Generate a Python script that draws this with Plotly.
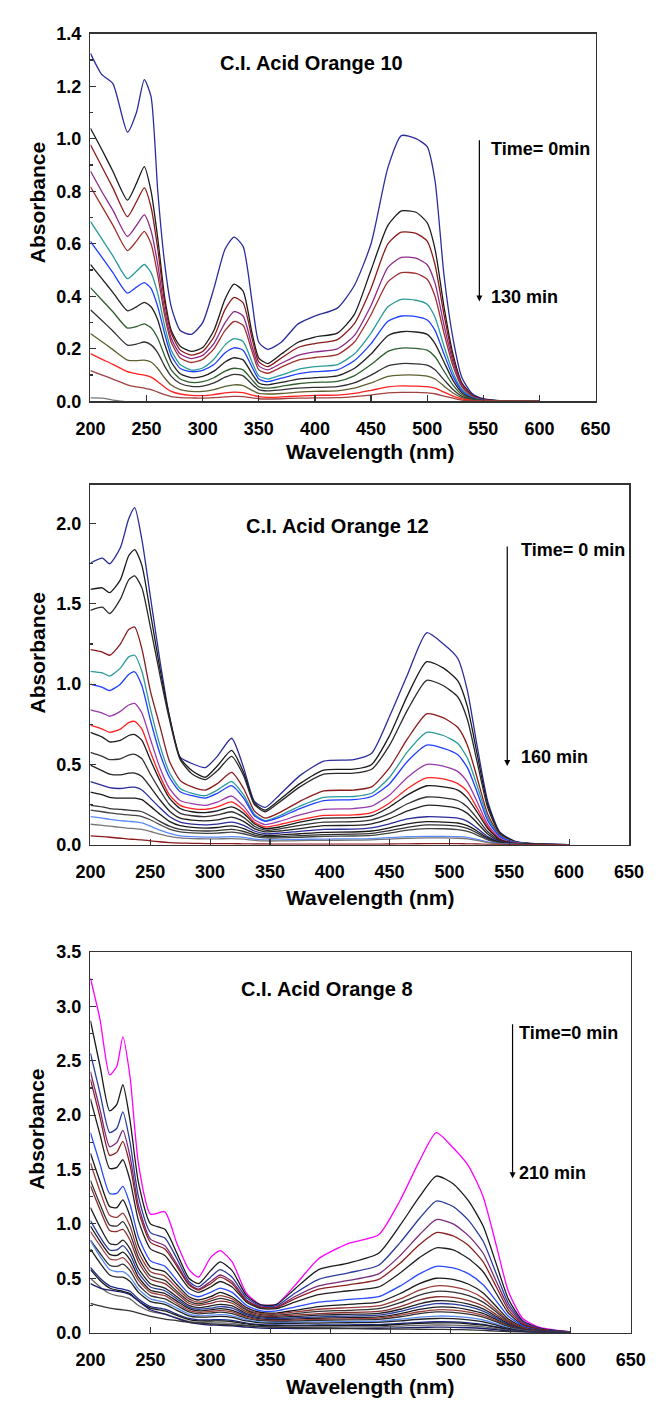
import plotly.graph_objects as go

# ---------------- DATA ----------------
# Panel 1: C.I. Acid Orange 10 (0 -> 130 min)
WL1 = [200, 210, 220, 233, 241, 248, 254, 260, 266, 272, 280, 290, 300, 310, 320, 328, 336, 344, 350, 358,
       370, 385, 400, 420, 435, 450, 465, 477, 490, 500, 507, 515, 523, 531, 540, 550, 565, 600]
P1_C1 = [1.325, 1.245, 1.21, 1.025, 1.10, 1.225, 1.16, 0.80, 0.53, 0.36, 0.27, 0.255, 0.30, 0.43, 0.58, 0.625, 0.59, 0.38, 0.225, 0.198,
         0.225, 0.295, 0.325, 0.355, 0.44, 0.60, 0.89, 1.012, 1.0, 0.97, 0.84, 0.48, 0.24, 0.09, 0.03, 0.01, 0.003, 0.0]
P1_C2 = [1.04, 0.96, 0.876, 0.766, 0.83, 0.894, 0.80, 0.62, 0.40, 0.27, 0.21, 0.19, 0.205, 0.27, 0.39, 0.446, 0.42, 0.26, 0.165, 0.144,
         0.18, 0.225, 0.245, 0.26, 0.33, 0.50, 0.67, 0.725, 0.72, 0.68, 0.58, 0.36, 0.18, 0.07, 0.025, 0.008, 0.002, 0.0]
P1_C3 = [0.977, 0.895, 0.813, 0.703, 0.76, 0.813, 0.74, 0.58, 0.38, 0.26, 0.195, 0.176, 0.19, 0.245, 0.35, 0.396, 0.375, 0.24, 0.15, 0.132,
         0.165, 0.205, 0.22, 0.235, 0.295, 0.43, 0.60, 0.644, 0.64, 0.61, 0.52, 0.33, 0.165, 0.065, 0.022, 0.007, 0.002, 0.0]
P1_C4 = [0.877, 0.80, 0.728, 0.628, 0.67, 0.71, 0.65, 0.52, 0.35, 0.24, 0.18, 0.163, 0.175, 0.22, 0.30, 0.342, 0.325, 0.21, 0.135, 0.12,
         0.145, 0.175, 0.188, 0.20, 0.25, 0.365, 0.51, 0.548, 0.545, 0.52, 0.45, 0.29, 0.15, 0.06, 0.02, 0.006, 0.002, 0.0]
P1_C5 = [0.817, 0.744, 0.671, 0.574, 0.61, 0.647, 0.60, 0.48, 0.33, 0.225, 0.165, 0.148, 0.16, 0.20, 0.27, 0.304, 0.29, 0.19, 0.12, 0.107,
         0.13, 0.157, 0.167, 0.178, 0.225, 0.33, 0.455, 0.49, 0.487, 0.465, 0.40, 0.26, 0.135, 0.055, 0.018, 0.005, 0.001, 0.0]
P1_C6 = [0.685, 0.62, 0.554, 0.467, 0.495, 0.521, 0.49, 0.41, 0.29, 0.195, 0.14, 0.119, 0.127, 0.16, 0.215, 0.239, 0.228, 0.15, 0.097, 0.085,
         0.10, 0.122, 0.132, 0.14, 0.18, 0.26, 0.36, 0.388, 0.385, 0.37, 0.32, 0.21, 0.11, 0.045, 0.015, 0.004, 0.001, 0.0]
P1_C7 = [0.609, 0.55, 0.49, 0.412, 0.435, 0.452, 0.43, 0.36, 0.26, 0.175, 0.125, 0.113, 0.118, 0.14, 0.185, 0.204, 0.195, 0.13, 0.085, 0.075,
         0.088, 0.105, 0.113, 0.12, 0.155, 0.22, 0.305, 0.325, 0.323, 0.31, 0.27, 0.18, 0.095, 0.04, 0.013, 0.004, 0.001, 0.0]
P1_C8 = [0.521, 0.468, 0.415, 0.345, 0.36, 0.377, 0.36, 0.31, 0.22, 0.15, 0.105, 0.09, 0.095, 0.115, 0.15, 0.166, 0.158, 0.105, 0.07, 0.063,
         0.072, 0.085, 0.09, 0.097, 0.125, 0.18, 0.25, 0.265, 0.264, 0.255, 0.22, 0.15, 0.08, 0.033, 0.011, 0.003, 0.001, 0.0]
P1_C9 = [0.433, 0.387, 0.341, 0.279, 0.285, 0.295, 0.28, 0.24, 0.175, 0.12, 0.085, 0.072, 0.075, 0.09, 0.115, 0.126, 0.12, 0.082, 0.055, 0.05,
         0.057, 0.067, 0.072, 0.076, 0.097, 0.14, 0.19, 0.203, 0.202, 0.195, 0.17, 0.115, 0.062, 0.026, 0.009, 0.003, 0.001, 0.0]
P1_C10 = [0.349, 0.309, 0.268, 0.214, 0.218, 0.226, 0.215, 0.185, 0.135, 0.095, 0.068, 0.057, 0.058, 0.07, 0.092, 0.103, 0.097, 0.065, 0.045, 0.04,
          0.044, 0.05, 0.053, 0.056, 0.07, 0.10, 0.135, 0.144, 0.143, 0.138, 0.12, 0.082, 0.045, 0.019, 0.007, 0.002, 0.001, 0.0]
P1_C11 = [0.258, 0.228, 0.197, 0.157, 0.155, 0.157, 0.15, 0.125, 0.09, 0.062, 0.045, 0.038, 0.038, 0.045, 0.057, 0.063, 0.06, 0.042, 0.03, 0.028,
          0.03, 0.035, 0.038, 0.04, 0.05, 0.07, 0.095, 0.10, 0.10, 0.096, 0.085, 0.058, 0.032, 0.014, 0.005, 0.002, 0.001, 0.0]
P1_C12 = [0.182, 0.161, 0.141, 0.113, 0.105, 0.10, 0.092, 0.075, 0.055, 0.038, 0.028, 0.023, 0.022, 0.026, 0.032, 0.035, 0.033, 0.024, 0.018, 0.015,
          0.017, 0.02, 0.023, 0.024, 0.03, 0.042, 0.055, 0.059, 0.058, 0.056, 0.05, 0.035, 0.02, 0.009, 0.003, 0.001, 0.0, 0.0]
P1_C13 = [0.117, 0.101, 0.085, 0.063, 0.055, 0.05, 0.045, 0.035, 0.026, 0.018, 0.014, 0.013, 0.012, 0.014, 0.017, 0.019, 0.018, 0.013, 0.01, 0.009,
          0.01, 0.012, 0.013, 0.014, 0.018, 0.024, 0.032, 0.034, 0.034, 0.032, 0.029, 0.02, 0.012, 0.005, 0.002, 0.001, 0.0, 0.0]
WL1_LAST = [200, 210, 220, 230]
P1_C14 = [0.013, 0.012, 0.005, 0.0]
P1_COLORS = ["#2b2b9b", "#1a1a1a", "#8b1a1a", "#8b2a8b", "#a03030", "#2a9a9a", "#1f3fff",
             "#222222", "#2f5f2f", "#333333", "#5f5f2f", "#ff2020", "#a04040", "#777777"]

# Panel 2: C.I. Acid Orange 12 (0 -> 160 min)
WL2 = [200, 210, 216, 225, 232, 237, 243, 250, 258, 266, 275, 285, 296, 306, 318, 328, 337, 346, 358, 375,
       395, 420, 435, 450, 465, 481, 495, 507, 515, 523, 532, 542, 555, 575, 600]
P2_C1 = [1.755, 1.785, 1.75, 1.85, 2.03, 2.10, 1.90, 1.55, 1.15, 0.80, 0.545, 0.505, 0.48, 0.55, 0.663, 0.48, 0.27, 0.232, 0.31, 0.43,
         0.52, 0.53, 0.57, 0.80, 1.06, 1.32, 1.25, 1.16, 0.96, 0.62, 0.27, 0.08, 0.02, 0.004, 0.0]
P2_C2 = [1.59, 1.60, 1.57, 1.65, 1.80, 1.838, 1.74, 1.45, 1.10, 0.80, 0.54, 0.46, 0.42, 0.49, 0.587, 0.45, 0.26, 0.215, 0.28, 0.38,
         0.465, 0.47, 0.50, 0.68, 0.93, 1.14, 1.10, 1.02, 0.86, 0.57, 0.25, 0.075, 0.018, 0.003, 0.0]
P2_C3 = [1.46, 1.48, 1.44, 1.53, 1.65, 1.674, 1.60, 1.36, 1.06, 0.78, 0.53, 0.44, 0.405, 0.46, 0.55, 0.43, 0.25, 0.205, 0.265, 0.36,
         0.44, 0.445, 0.47, 0.62, 0.84, 1.024, 0.99, 0.92, 0.78, 0.52, 0.23, 0.07, 0.017, 0.003, 0.0]
P2_C4 = [1.215, 1.20, 1.18, 1.25, 1.34, 1.356, 1.22, 0.96, 0.74, 0.52, 0.40, 0.36, 0.34, 0.38, 0.45, 0.35, 0.21, 0.165, 0.20, 0.27,
         0.335, 0.34, 0.36, 0.48, 0.66, 0.815, 0.79, 0.73, 0.62, 0.42, 0.19, 0.06, 0.015, 0.003, 0.0]
P2_C5 = [1.08, 1.07, 1.05, 1.10, 1.17, 1.18, 1.08, 0.85, 0.62, 0.45, 0.35, 0.32, 0.305, 0.34, 0.393, 0.31, 0.19, 0.15, 0.18, 0.24,
         0.295, 0.30, 0.32, 0.42, 0.58, 0.70, 0.68, 0.63, 0.54, 0.37, 0.17, 0.055, 0.014, 0.003, 0.0]
P2_C6 = [1.00, 0.98, 0.96, 1.00, 1.06, 1.077, 0.99, 0.78, 0.57, 0.42, 0.33, 0.305, 0.29, 0.32, 0.368, 0.29, 0.18, 0.145, 0.17, 0.225,
         0.275, 0.28, 0.30, 0.38, 0.52, 0.62, 0.60, 0.56, 0.48, 0.33, 0.15, 0.05, 0.012, 0.003, 0.0]
P2_C7 = [0.84, 0.82, 0.80, 0.83, 0.87, 0.88, 0.82, 0.66, 0.48, 0.35, 0.275, 0.255, 0.245, 0.265, 0.303, 0.24, 0.155, 0.125, 0.145, 0.185,
         0.22, 0.225, 0.24, 0.31, 0.42, 0.50, 0.49, 0.455, 0.39, 0.27, 0.125, 0.04, 0.01, 0.002, 0.0]
P2_C8 = [0.745, 0.72, 0.70, 0.72, 0.76, 0.768, 0.72, 0.58, 0.43, 0.31, 0.245, 0.225, 0.22, 0.235, 0.266, 0.215, 0.14, 0.11, 0.125, 0.155,
         0.182, 0.185, 0.20, 0.26, 0.35, 0.416, 0.41, 0.38, 0.33, 0.23, 0.11, 0.035, 0.009, 0.002, 0.0]
P2_C9 = [0.70, 0.67, 0.64, 0.65, 0.68, 0.686, 0.65, 0.53, 0.40, 0.29, 0.225, 0.205, 0.20, 0.21, 0.235, 0.195, 0.13, 0.10, 0.11, 0.14,
         0.165, 0.168, 0.18, 0.235, 0.31, 0.367, 0.36, 0.34, 0.29, 0.205, 0.10, 0.032, 0.008, 0.002, 0.0]
P2_C10 = [0.575, 0.55, 0.53, 0.535, 0.558, 0.563, 0.535, 0.44, 0.34, 0.25, 0.195, 0.18, 0.175, 0.185, 0.205, 0.17, 0.115, 0.09, 0.098, 0.12,
          0.14, 0.143, 0.155, 0.195, 0.255, 0.297, 0.292, 0.275, 0.235, 0.165, 0.08, 0.027, 0.007, 0.002, 0.0]
P2_C11 = [0.495, 0.46, 0.44, 0.435, 0.445, 0.446, 0.425, 0.36, 0.28, 0.21, 0.165, 0.153, 0.148, 0.155, 0.172, 0.145, 0.10, 0.08, 0.085, 0.10,
          0.118, 0.12, 0.13, 0.162, 0.21, 0.245, 0.24, 0.226, 0.195, 0.137, 0.067, 0.022, 0.006, 0.001, 0.0]
P2_C12 = [0.393, 0.37, 0.355, 0.35, 0.357, 0.358, 0.34, 0.29, 0.23, 0.175, 0.14, 0.128, 0.123, 0.128, 0.14, 0.12, 0.085, 0.068, 0.072, 0.083,
          0.095, 0.097, 0.105, 0.13, 0.16, 0.174, 0.172, 0.165, 0.145, 0.103, 0.05, 0.017, 0.005, 0.001, 0.0]
P2_C13 = [0.327, 0.31, 0.295, 0.29, 0.29, 0.29, 0.28, 0.24, 0.19, 0.145, 0.118, 0.108, 0.103, 0.107, 0.117, 0.10, 0.072, 0.058, 0.06, 0.068,
          0.077, 0.079, 0.085, 0.105, 0.13, 0.143, 0.141, 0.135, 0.118, 0.085, 0.042, 0.014, 0.004, 0.001, 0.0]
P2_C14 = [0.245, 0.235, 0.225, 0.22, 0.215, 0.212, 0.205, 0.18, 0.145, 0.115, 0.095, 0.088, 0.085, 0.088, 0.095, 0.082, 0.06, 0.05, 0.05, 0.056,
          0.063, 0.065, 0.07, 0.087, 0.108, 0.123, 0.122, 0.116, 0.101, 0.073, 0.036, 0.012, 0.003, 0.001, 0.0]
P2_C15 = [0.215, 0.205, 0.198, 0.19, 0.185, 0.182, 0.175, 0.155, 0.125, 0.097, 0.08, 0.073, 0.07, 0.072, 0.078, 0.068, 0.05, 0.042, 0.042, 0.046,
          0.052, 0.054, 0.058, 0.072, 0.09, 0.10, 0.099, 0.094, 0.082, 0.06, 0.03, 0.01, 0.003, 0.001, 0.0]
P2_C16 = [0.174, 0.165, 0.158, 0.15, 0.145, 0.142, 0.135, 0.115, 0.09, 0.07, 0.055, 0.05, 0.047, 0.047, 0.05, 0.045, 0.035, 0.03, 0.03, 0.032,
          0.035, 0.036, 0.038, 0.044, 0.05, 0.052, 0.052, 0.05, 0.045, 0.033, 0.017, 0.006, 0.002, 0.0, 0.0]
P2_C17 = [0.127, 0.12, 0.115, 0.108, 0.102, 0.10, 0.095, 0.082, 0.066, 0.052, 0.042, 0.038, 0.036, 0.036, 0.038, 0.034, 0.027, 0.023, 0.023, 0.025,
          0.027, 0.028, 0.03, 0.035, 0.04, 0.042, 0.042, 0.04, 0.036, 0.026, 0.013, 0.005, 0.001, 0.0, 0.0]
P2_C18 = [0.055, 0.05, 0.046, 0.04, 0.035, 0.033, 0.03, 0.024, 0.018, 0.013, 0.01, 0.008, 0.007, 0.006, 0.006, 0.005, 0.004, 0.004, 0.003, 0.003,
          0.003, 0.003, 0.003, 0.004, 0.005, 0.006, 0.006, 0.006, 0.005, 0.004, 0.002, 0.001, 0.0, 0.0, 0.0]
P2_COLORS = ["#2b2b9b", "#1a1a1a", "#2a2a2a", "#8b1a1a", "#2a9a9a", "#1f3fff", "#9a3aaa", "#ff2020", "#1a1a1a",
             "#333333", "#222222", "#2b2b9b", "#1a1a1a", "#333333", "#444444", "#5a8aff", "#777777", "#8b1a1a"]

# Panel 3: C.I. Acid Orange 8 (0 -> 210 min)
WL3 = [200, 208, 216, 222, 227, 233, 240, 250, 262, 272, 282, 290, 300, 308, 318, 330, 342, 355, 370, 390,
       415, 440, 458, 474, 488, 502, 515, 527, 538, 548, 560, 575, 600]
P3_C1 = [3.26, 2.88, 2.37, 2.45, 2.72, 2.35, 1.55, 1.09, 1.11, 0.82, 0.58, 0.51, 0.69, 0.755, 0.65, 0.36, 0.255, 0.26, 0.43, 0.68,
         0.82, 0.90, 1.22, 1.58, 1.84, 1.70, 1.53, 1.25, 0.80, 0.38, 0.13, 0.045, 0.006]
P3_C2 = [2.87, 2.45, 2.04, 2.10, 2.28, 1.95, 1.38, 1.00, 0.95, 0.73, 0.50, 0.45, 0.57, 0.65, 0.57, 0.34, 0.255, 0.26, 0.40, 0.58,
         0.64, 0.73, 0.99, 1.25, 1.44, 1.37, 1.21, 0.98, 0.63, 0.31, 0.11, 0.04, 0.006]
P3_C3 = [2.57, 2.20, 1.84, 1.88, 2.03, 1.75, 1.25, 0.92, 0.87, 0.68, 0.47, 0.42, 0.51, 0.58, 0.51, 0.32, 0.245, 0.245, 0.36, 0.49,
         0.55, 0.62, 0.83, 1.05, 1.21, 1.16, 1.03, 0.84, 0.54, 0.27, 0.10, 0.035, 0.005]
P3_C4 = [2.40, 2.05, 1.71, 1.75, 1.86, 1.62, 1.17, 0.86, 0.80, 0.63, 0.45, 0.40, 0.47, 0.53, 0.47, 0.30, 0.235, 0.235, 0.33, 0.43,
         0.48, 0.54, 0.71, 0.90, 1.04, 1.00, 0.89, 0.73, 0.47, 0.24, 0.09, 0.03, 0.005]
P3_C5 = [2.33, 1.98, 1.63, 1.66, 1.76, 1.54, 1.12, 0.83, 0.77, 0.61, 0.44, 0.39, 0.45, 0.51, 0.45, 0.29, 0.23, 0.23, 0.31, 0.40,
         0.44, 0.49, 0.64, 0.81, 0.92, 0.89, 0.80, 0.65, 0.42, 0.21, 0.08, 0.03, 0.005]
P3_C6 = [2.15, 1.82, 1.51, 1.52, 1.59, 1.40, 1.03, 0.77, 0.71, 0.56, 0.41, 0.37, 0.42, 0.47, 0.42, 0.28, 0.22, 0.22, 0.28, 0.35,
         0.385, 0.42, 0.55, 0.69, 0.78, 0.76, 0.68, 0.56, 0.36, 0.18, 0.07, 0.025, 0.004]
P3_C7 = [1.84, 1.55, 1.28, 1.28, 1.345, 1.18, 0.88, 0.66, 0.61, 0.48, 0.36, 0.33, 0.37, 0.41, 0.37, 0.25, 0.20, 0.20, 0.235, 0.28,
         0.305, 0.33, 0.43, 0.54, 0.61, 0.595, 0.54, 0.44, 0.29, 0.15, 0.06, 0.02, 0.004]
P3_C8 = [1.65, 1.39, 1.16, 1.15, 1.22, 1.07, 0.80, 0.60, 0.56, 0.44, 0.33, 0.30, 0.33, 0.37, 0.33, 0.23, 0.185, 0.18, 0.205, 0.24,
         0.26, 0.28, 0.36, 0.45, 0.50, 0.49, 0.445, 0.365, 0.24, 0.125, 0.05, 0.018, 0.003]
P3_C9 = [1.56, 1.30, 1.08, 1.06, 1.10, 0.98, 0.74, 0.56, 0.52, 0.41, 0.31, 0.28, 0.31, 0.34, 0.31, 0.215, 0.175, 0.17, 0.19, 0.215,
         0.23, 0.245, 0.31, 0.39, 0.43, 0.42, 0.385, 0.315, 0.21, 0.11, 0.045, 0.016, 0.003]
P3_C10 = [1.40, 1.18, 0.99, 0.98, 1.02, 0.91, 0.69, 0.52, 0.48, 0.38, 0.29, 0.265, 0.29, 0.315, 0.29, 0.205, 0.165, 0.16, 0.175, 0.195,
          0.205, 0.22, 0.275, 0.345, 0.38, 0.372, 0.34, 0.28, 0.19, 0.10, 0.04, 0.015, 0.003]
P3_C11 = [1.35, 1.13, 0.94, 0.93, 0.95, 0.85, 0.65, 0.49, 0.45, 0.36, 0.27, 0.25, 0.27, 0.29, 0.27, 0.19, 0.155, 0.15, 0.16, 0.175,
          0.185, 0.195, 0.24, 0.30, 0.33, 0.325, 0.295, 0.245, 0.165, 0.09, 0.035, 0.013, 0.003]
P3_C12 = [1.15, 0.97, 0.82, 0.81, 0.85, 0.77, 0.59, 0.45, 0.41, 0.33, 0.25, 0.23, 0.245, 0.26, 0.245, 0.175, 0.145, 0.14, 0.148, 0.16,
          0.168, 0.177, 0.215, 0.265, 0.293, 0.288, 0.262, 0.218, 0.148, 0.08, 0.032, 0.012, 0.002]
P3_C13 = [1.03, 0.88, 0.76, 0.76, 0.80, 0.72, 0.55, 0.42, 0.385, 0.31, 0.235, 0.215, 0.225, 0.24, 0.225, 0.165, 0.135, 0.13, 0.136, 0.145,
          0.152, 0.16, 0.195, 0.24, 0.266, 0.262, 0.238, 0.198, 0.135, 0.073, 0.03, 0.011, 0.002]
P3_C14 = [0.98, 0.84, 0.72, 0.71, 0.74, 0.67, 0.51, 0.39, 0.36, 0.29, 0.22, 0.20, 0.21, 0.22, 0.205, 0.152, 0.125, 0.12, 0.124, 0.132,
          0.138, 0.145, 0.175, 0.213, 0.235, 0.232, 0.21, 0.176, 0.12, 0.066, 0.027, 0.01, 0.002]
P3_C15 = [0.93, 0.80, 0.68, 0.67, 0.69, 0.62, 0.48, 0.37, 0.34, 0.27, 0.205, 0.187, 0.195, 0.205, 0.19, 0.142, 0.118, 0.112, 0.115, 0.122,
          0.127, 0.133, 0.16, 0.192, 0.21, 0.207, 0.188, 0.158, 0.108, 0.06, 0.025, 0.009, 0.002]
P3_C16 = [0.85, 0.73, 0.62, 0.61, 0.63, 0.57, 0.44, 0.34, 0.31, 0.25, 0.19, 0.173, 0.18, 0.188, 0.175, 0.132, 0.11, 0.104, 0.106, 0.112,
          0.117, 0.122, 0.146, 0.174, 0.19, 0.187, 0.17, 0.143, 0.098, 0.055, 0.023, 0.008, 0.002]
P3_C17 = [0.846, 0.70, 0.58, 0.56, 0.56, 0.51, 0.40, 0.31, 0.28, 0.225, 0.17, 0.155, 0.16, 0.165, 0.155, 0.118, 0.098, 0.093, 0.094, 0.098,
          0.102, 0.106, 0.123, 0.142, 0.152, 0.15, 0.137, 0.116, 0.08, 0.045, 0.019, 0.007, 0.001]
P3_C18 = [0.77, 0.64, 0.53, 0.51, 0.51, 0.47, 0.37, 0.285, 0.26, 0.205, 0.155, 0.142, 0.145, 0.15, 0.14, 0.107, 0.089, 0.085, 0.085, 0.088,
          0.091, 0.094, 0.108, 0.123, 0.13, 0.128, 0.117, 0.099, 0.069, 0.039, 0.016, 0.006, 0.001]
P3_C19 = [0.60, 0.50, 0.43, 0.41, 0.40, 0.38, 0.31, 0.24, 0.215, 0.17, 0.13, 0.118, 0.118, 0.12, 0.113, 0.088, 0.073, 0.07, 0.069, 0.07,
          0.072, 0.074, 0.084, 0.095, 0.10, 0.099, 0.09, 0.076, 0.053, 0.03, 0.012, 0.005, 0.001]
P3_C20 = [0.58, 0.48, 0.41, 0.39, 0.38, 0.36, 0.29, 0.225, 0.20, 0.158, 0.12, 0.108, 0.107, 0.108, 0.102, 0.08, 0.066, 0.063, 0.062, 0.063,
          0.064, 0.066, 0.075, 0.085, 0.09, 0.089, 0.081, 0.068, 0.048, 0.027, 0.011, 0.004, 0.001]
P3_C21 = [0.50, 0.42, 0.36, 0.34, 0.33, 0.31, 0.25, 0.195, 0.17, 0.135, 0.103, 0.093, 0.09, 0.09, 0.085, 0.067, 0.055, 0.052, 0.051, 0.051,
          0.052, 0.053, 0.06, 0.067, 0.07, 0.069, 0.063, 0.053, 0.037, 0.021, 0.009, 0.003, 0.001]
P3_C22 = [0.45, 0.41, 0.39, 0.38, 0.37, 0.35, 0.29, 0.21, 0.17, 0.13, 0.095, 0.08, 0.07, 0.068, 0.063, 0.05, 0.042, 0.04, 0.038, 0.038,
          0.039, 0.04, 0.044, 0.048, 0.05, 0.049, 0.045, 0.038, 0.027, 0.015, 0.006, 0.002, 0.0]
P3_C23 = [0.27, 0.245, 0.225, 0.215, 0.21, 0.20, 0.18, 0.15, 0.125, 0.11, 0.095, 0.088, 0.08, 0.075, 0.07, 0.062, 0.055, 0.05, 0.045, 0.04,
          0.036, 0.033, 0.032, 0.031, 0.03, 0.028, 0.025, 0.02, 0.014, 0.008, 0.004, 0.002, 0.0]
P3_COLORS = ["#ff00ff", "#1a1a1a", "#2b3b9b", "#7a2a7a", "#8b2020", "#222222", "#2a4aff", "#1a1a1a", "#9a3a3a",
             "#333333", "#8b3030", "#222222", "#2b3b9b", "#1a1a1a", "#a04040", "#333333", "#5a8aee", "#222222",
             "#1a2a8a", "#1a1a1a", "#666666", "#1a1a6a", "#333333"]

TITLES = ["C.I. Acid Orange 10", "C.I. Acid Orange 12", "C.I. Acid Orange 8"]
TIME_START = ["Time= 0min", "Time= 0 min", "Time=0 min"]
TIME_END = ["130 min", "160 min", "210 min"]
X_TICKS = [200, 250, 300, 350, 400, 450, 500, 550, 600, 650]

# ---------------- FIGURE ----------------
W, H = 664, 1406
FONT = "Liberation Sans, Arial, Helvetica, sans-serif"

P1 = [P1_C1, P1_C2, P1_C3, P1_C4, P1_C5, P1_C6, P1_C7, P1_C8, P1_C9, P1_C10, P1_C11, P1_C12, P1_C13]
P2 = [P2_C1, P2_C2, P2_C3, P2_C4, P2_C5, P2_C6, P2_C7, P2_C8, P2_C9, P2_C10, P2_C11, P2_C12, P2_C13,
      P2_C14, P2_C15, P2_C16, P2_C17, P2_C18]
P3 = [P3_C1, P3_C2, P3_C3, P3_C4, P3_C5, P3_C6, P3_C7, P3_C8, P3_C9, P3_C10, P3_C11, P3_C12, P3_C13,
      P3_C14, P3_C15, P3_C16, P3_C17, P3_C18, P3_C19, P3_C20, P3_C21, P3_C22, P3_C23]

for i, c in enumerate(P1):
    assert len(c) == len(WL1), ("P1", i, len(c))
for i, c in enumerate(P2):
    assert len(c) == len(WL2), ("P2", i, len(c))
for i, c in enumerate(P3):
    assert len(c) == len(WL3), ("P3", i, len(c))

fig = go.Figure()
LW = 1.3


def add_curves(wl, curves, colors, xa, ya):
    for c, col in zip(curves, colors):
        fig.add_trace(go.Scatter(x=wl, y=c, mode="lines", xaxis=xa, yaxis=ya,
                                 line=dict(color=col, width=LW, shape="spline", smoothing=0.6),
                                 showlegend=False, hoverinfo="skip"))


add_curves(WL1, P1, P1_COLORS[:13], "x", "y")
fig.add_trace(go.Scatter(x=WL1_LAST, y=P1_C14, mode="lines", xaxis="x", yaxis="y",
                         line=dict(color=P1_COLORS[13], width=LW, shape="spline"),
                         showlegend=False, hoverinfo="skip"))
add_curves(WL2, P2, P2_COLORS, "x2", "y2")
add_curves(WL3, P3, P3_COLORS, "x3", "y3")

# pixel boxes of the three panels: (left, right, top, bottom)
BOXES = [(79, 608, 24, 397), (79, 643, 481.7, 846.7), (79, 645, 955.7, 1341.7)]
YRANGES = [(0, 1.4), (0, 2.2416), (0, 3.5)]
YDTICK = [0.2, 0.5, 0.5]
YMINOR = [0.1, 0.25, 0.25]

tickfont = dict(family=FONT, size=18, color="black", weight="bold")
layout = {}
for k, (box, yr, dt, mn) in enumerate(zip(BOXES, YRANGES, YDTICK, YMINOR)):
    l, r, t, b = box
    sx = "" if k == 0 else str(k + 1)
    layout["xaxis" + sx] = dict(
        domain=[l / W, r / W], range=[200, 650], anchor="y" + sx,
        tickmode="array", tickvals=X_TICKS, ticks="inside", ticklen=6, tickwidth=1.2,
        tickcolor="#333", showline=True, linecolor="#333", linewidth=1.6, mirror=True,
        showgrid=False, zeroline=False, tickfont=tickfont, ticklabelstandoff=10)
    layout["yaxis" + sx] = dict(
        domain=[1 - b / H, 1 - t / H], range=list(yr), anchor="x" + sx,
        dtick=dt, tick0=0, tickformat=".1f", ticks="inside", ticklen=6, tickwidth=1.2,
        tickcolor="#333", showline=True, linecolor="#333", linewidth=1.6, mirror=True,
        showgrid=False, zeroline=False, tickfont=tickfont, ticklabelstandoff=4,
        minor=dict(ticks="inside", ticklen=3, dtick=mn, tickcolor="#333", showgrid=False))

fig.update_layout(width=W, height=H, margin=dict(l=0, r=0, t=0, b=0), autosize=False,
                  paper_bgcolor="white", plot_bgcolor="white", showlegend=False, **layout)

ann_font = dict(family=FONT, size=18, color="black", weight="bold")
title_font = dict(family=FONT, size=20, color="black", weight="bold")
label_font = dict(family=FONT, size=21, color="black", weight="bold")

# axis titles (pixel positions)
YLAB_Y = [195, 651.7, 1135]
XLAB_Y = [448, 900, 1396]
for k in range(3):
    fig.add_annotation(text="Absorbance", xref="paper", yref="paper", x=23 / W, y=1 - YLAB_Y[k] / H,
                       textangle=-90, showarrow=False, font=label_font, xanchor="center", yanchor="middle")
    fig.add_annotation(text="Wavelength (nm)", xref="paper", yref="paper", x=372 / W, y=1 - XLAB_Y[k] / H,
                       showarrow=False, font=label_font, xanchor="center", yanchor="middle")

# panel titles and time arrows (data coordinates)
TITLE_POS = [(397, 1.29), (406.6, 1.986), (397, 3.158)]
ARROW_X = [546.5, 548.3, 551.5]
ARROW_Y = [(1.0, 0.38), (1.867, 0.49), (2.85, 1.42)]
T0_POS = [(555, 0.9625), (558.5, 1.838), (555.5, 2.76)]
T1_POS = [(555, 0.396), (558.5, 0.547), (554.8, 1.47)]
for k in range(3):
    sx = "" if k == 0 else str(k + 1)
    xr, yr = "x" + sx, "y" + sx
    fig.add_annotation(text=TITLES[k], xref=xr, yref=yr, x=TITLE_POS[k][0], y=TITLE_POS[k][1],
                       showarrow=False, font=title_font, xanchor="center", yanchor="middle")
    fig.add_annotation(text="", xref=xr, yref=yr, axref=xr, ayref=yr,
                       x=ARROW_X[k], y=ARROW_Y[k][1], ax=ARROW_X[k], ay=ARROW_Y[k][0],
                       showarrow=True, arrowhead=2, arrowsize=1.0, arrowwidth=1.2, arrowcolor="black",
                       standoff=0, startstandoff=0)
    fig.add_annotation(text=TIME_START[k], xref=xr, yref=yr, x=T0_POS[k][0], y=T0_POS[k][1],
                       showarrow=False, font=ann_font, xanchor="left", yanchor="middle")
    fig.add_annotation(text=TIME_END[k], xref=xr, yref=yr, x=T1_POS[k][0], y=T1_POS[k][1],
                       showarrow=False, font=ann_font, xanchor="left", yanchor="middle")

# remove the browser's default 8px body margin so pixel positions match the page
fig.write_html("out.html", config={"displayModeBar": False, "staticPlot": True},
               post_script="document.body.style.margin='0px';document.body.style.overflow='hidden';")
